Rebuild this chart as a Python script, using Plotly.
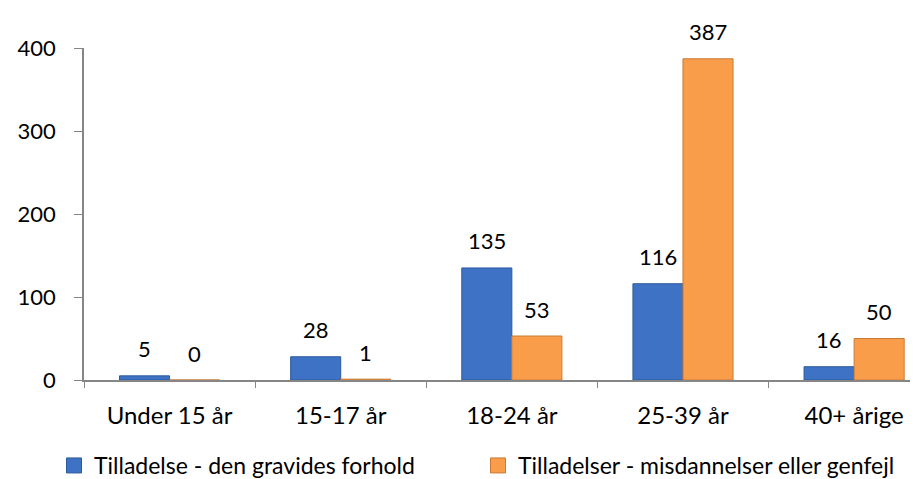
import plotly.graph_objects as go

categories = ["Under 15 år", "15-17 år", "18-24 år", "25-39 år", "40+ årige"]
gravid = [5, 28, 135, 116, 16]
misdan = [0, 1, 53, 387, 50]
name_gravid = "Tilladelse - den gravides forhold"
name_misdan = "Tilladelser - misdannelser eller genfejl"

FONT = "Lato"
FS_NUM = 22
FS_TXT = 24
FS_LEG = 23
blue = "#3d72c4"
orange = "#f99d4a"
blue_line = "#2d5a9c"
orange_line = "#c87a36"

fig = go.Figure()
fig.add_trace(go.Bar(x=categories, y=gravid, name=name_gravid, showlegend=False,
                     marker=dict(color=blue, line=dict(color=blue_line, width=1))))
fig.add_trace(go.Bar(x=categories, y=misdan, name=name_misdan, showlegend=False,
                     marker=dict(color=orange, line=dict(color=orange_line, width=1))))
# legend entries (square markers like the original)
fig.add_trace(go.Scatter(x=[None], y=[None], mode="markers", name=name_gravid, legend="legend",
                         marker=dict(symbol="square", size=15, color=blue,
                                     line=dict(color=blue_line, width=1))))
fig.add_trace(go.Scatter(x=[None], y=[None], mode="markers", name=name_misdan, legend="legend2",
                         marker=dict(symbol="square", size=15, color=orange,
                                     line=dict(color=orange_line, width=1))))

annotations = []
for cat, v in zip(categories, gravid):
    annotations.append(dict(x=cat, y=v, text=str(v), showarrow=False, xshift=-25, yshift=27,
                            font=dict(family=FONT, size=FS_NUM, color="black")))
for cat, v in zip(categories, misdan):
    annotations.append(dict(x=cat, y=v, text=str(v), showarrow=False, xshift=25, yshift=27,
                            font=dict(family=FONT, size=FS_NUM, color="black")))

legend_common = dict(orientation="h", xref="container", yref="container",
                     xanchor="left", y=0, yanchor="bottom",
                     font=dict(family=FONT, size=FS_LEG), itemwidth=30,
                     bgcolor="rgba(0,0,0,0)")

fig.update_layout(
    width=918, height=479,
    margin=dict(l=76, r=0, t=40, b=107, autoexpand=False),
    paper_bgcolor="white", plot_bgcolor="white",
    barmode="group", bargap=0.415, bargroupgap=0,
    font=dict(family=FONT, size=FS_TXT, color="black"),
    annotations=annotations,
    showlegend=True,
    legend=dict(x=46/918, **legend_common),
    legend2=dict(x=470/918, **legend_common),
)
fig.update_xaxes(range=[-0.5, 4.42], showline=True, linecolor="#868686", linewidth=1.5,
                 ticks="outside", tickson="boundaries", ticklen=6, tickcolor="#868686",
                 ticklabelstandoff=13, showgrid=False, zeroline=False, fixedrange=True,
                 tickfont=dict(family=FONT, size=FS_TXT))
fig.update_yaxes(range=[0, 400], dtick=100, showline=True, linecolor="#868686", linewidth=1.5,
                 ticks="outside", ticklen=8, tickcolor="#868686", ticklabelstandoff=14,
                 showgrid=False, zeroline=False, tickfont=dict(family=FONT, size=FS_NUM))

fig.write_html("out.html")
